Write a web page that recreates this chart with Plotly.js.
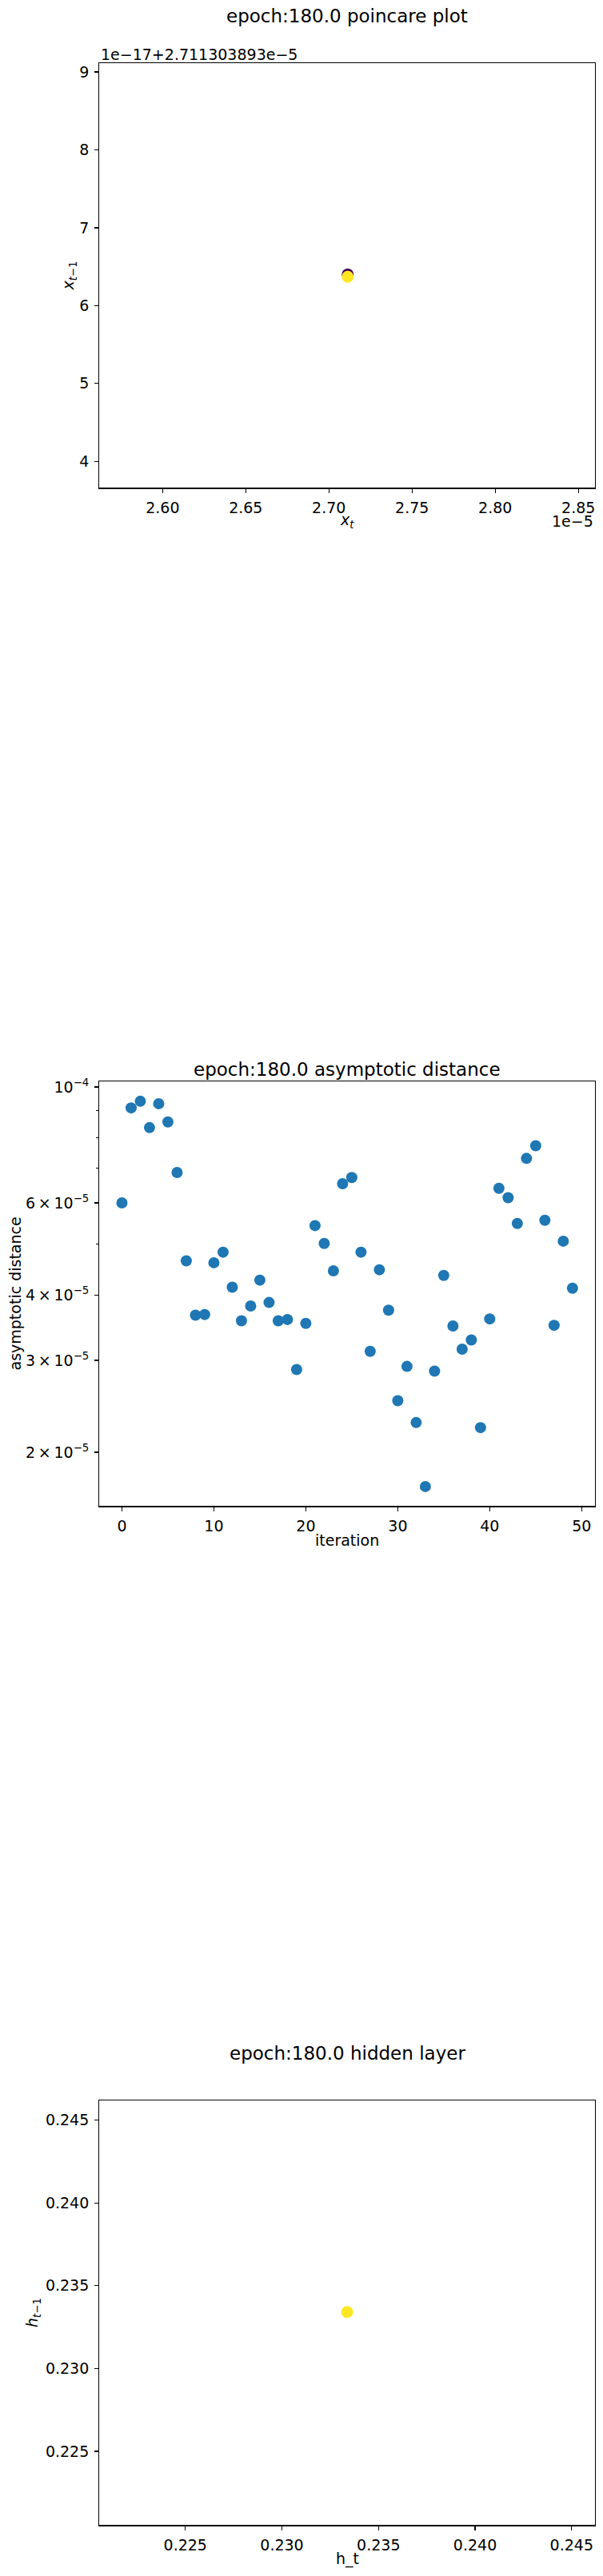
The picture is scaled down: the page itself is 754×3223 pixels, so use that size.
<!DOCTYPE html>
<html>
<head>
<meta charset="utf-8">
<script src="https://cdn.plot.ly/plotly-3.0.1.min.js"></script>
<style>
  body { margin: 0; background: #fff; }
  #chart { width: 754px; height: 3223px; }
</style>
</head>
<body>
<div id="chart"></div>
<script>
// poincare plot: x_t (raw) and x_{t-1} as offset from 2.711303893e-5, in units of 1e-17
const poincareX = [2.711303893e-5, 2.711303893e-5];
const poincareYOffset = [6.40, 6.37];
const poincareColors = ["#440154", "#fde725"];

// asymptotic distance per iteration
const iterations = [...Array(50).keys()];
const asymDist = [
    6.0e-5, 9.12e-5, 9.39e-5, 8.36e-5, 9.29e-5, 8.57e-5, 6.86e-5, 4.65e-5, 3.66e-5, 3.67e-5,
    4.61e-5, 4.83e-5, 4.14e-5, 3.57e-5, 3.81e-5, 4.27e-5, 3.87e-5, 3.57e-5, 3.59e-5, 2.88e-5,
    3.53e-5, 5.43e-5, 5.02e-5, 4.45e-5, 6.53e-5, 6.71e-5, 4.83e-5, 3.12e-5, 4.47e-5, 3.74e-5,
    2.51e-5, 2.92e-5, 2.28e-5, 1.72e-5, 2.86e-5, 4.36e-5, 3.49e-5, 3.15e-5, 3.28e-5, 2.23e-5,
    3.60e-5, 6.40e-5, 6.14e-5, 5.48e-5, 7.30e-5, 7.72e-5, 5.56e-5, 3.50e-5, 5.07e-5, 4.12e-5
];
const asymTickVals = [2e-5, 3e-5, 4e-5, 6e-5, 1e-4];
const asymTickText = ["2\u2009×\u200910<sup>−5</sup>", "3\u2009×\u200910<sup>−5</sup>",
                      "4\u2009×\u200910<sup>−5</sup>", "6\u2009×\u200910<sup>−5</sup>",
                      "10<sup>−4</sup>"];
const asymMinorVals = [5e-5, 7e-5, 8e-5, 9e-5];

// hidden layer
const hiddenT = [0.23338];
const hiddenTm1 = [0.23341];
const hiddenColors = ["#fde725"];

const font = { family: "DejaVu Sans", size: 19, color: "#000" };
const titleFont = { family: "DejaVu Sans", size: 23, color: "#000" };
const xDom = [0.16485, 0.98674];

function axisBase(extra) {
    return Object.assign({
        showline: true,
        mirror: true,
        linecolor: "#000",
        linewidth: 1.2,
        ticks: "outside",
        ticklen: 5,
        tickwidth: 1.2,
        tickcolor: "#000",
        showgrid: false,
        zeroline: false,
        ticklabelstandoff: 3,
        tickfont: font,
        fixedrange: true
    }, extra);
}

const tracePoincare = {
    x: poincareX.map(v => v / 1e-5),
    y: poincareYOffset,
    mode: "markers",
    type: "scatter",
    marker: { color: poincareColors, size: 15 },
    xaxis: "x",
    yaxis: "y",
    showlegend: false
};

const traceAsym = {
    x: iterations,
    y: asymDist,
    mode: "markers",
    type: "scatter",
    marker: { color: "#1f77b4", size: 14 },
    xaxis: "x2",
    yaxis: "y2",
    showlegend: false
};

const traceHidden = {
    x: hiddenT,
    y: hiddenTm1,
    mode: "markers",
    type: "scatter",
    marker: { color: hiddenColors, size: 15 },
    xaxis: "x3",
    yaxis: "y3",
    showlegend: false
};

function yp(px) { return 1 - px / 3223; }
const xMid = (xDom[0] + xDom[1]) / 2;

function note(text, x, y, opts) {
    return Object.assign({
        text: text, x: x, y: y, xref: "paper", yref: "paper",
        showarrow: false, xanchor: "center", yanchor: "middle", font: font
    }, opts || {});
}

const annotations = [
    note("epoch:180.0 poincare plot", xMid, yp(20), { font: titleFont }),
    note("1e−17+2.711303893e−5", xDom[0], yp(68), { xanchor: "left" }),
    note("<i>x</i><sub><i>t</i></sub>", xMid, yp(651)),
    note("1e−5", xDom[1], yp(652), { xanchor: "right" }),
    note("<i>x</i><sub><i>t</i>−1</sub>", 85.6 / 754, yp(345), { textangle: -90 }),

    note("epoch:180.0 asymptotic distance", xMid, yp(1338), { font: titleFont }),
    note("iteration", xMid, yp(1927)),
    note("asymptotic distance", 18.5 / 754, yp(1619), { textangle: -90 }),

    note("epoch:180.0 hidden layer", xMid, yp(2569), { font: titleFont }),
    note("h_t", xMid, yp(3201)),
    note("<i>h</i><sub><i>t</i>−1</sub>", 41 / 754, yp(2894), { textangle: -90 })
];

const layout = {
    width: 754,
    height: 3223,
    margin: { l: 0, r: 0, t: 0, b: 0 },
    paper_bgcolor: "#fff",
    plot_bgcolor: "#fff",
    font: font,
    showlegend: false,
    xaxis: axisBase({
        domain: xDom, anchor: "y", range: [2.562, 2.860],
        tickvals: [2.60, 2.65, 2.70, 2.75, 2.80, 2.85], tickformat: ".2f"
    }),
    yaxis: axisBase({
        domain: [yp(610.3), yp(79)], anchor: "x", range: [3.661, 9.113],
        tickvals: [4, 5, 6, 7, 8, 9]
    }),
    xaxis2: axisBase({
        domain: xDom, anchor: "y2", range: [-2.45, 51.45],
        tickvals: [0, 10, 20, 30, 40, 50]
    }),
    yaxis2: axisBase({
        domain: [yp(1884.3), yp(1353.3)], anchor: "x2", type: "log",
        range: [-4.8018, -3.98976],
        tickmode: "array", tickvals: asymTickVals, ticktext: asymTickText,
        minor: { tickmode: "array", tickvals: asymMinorVals, ticks: "outside",
                 ticklen: 3, tickwidth: 1, tickcolor: "#000", showgrid: false }
    }),
    xaxis3: axisBase({
        domain: xDom, anchor: "y3", range: [0.22055, 0.24621],
        tickvals: [0.225, 0.230, 0.235, 0.240, 0.245], tickformat: ".3f"
    }),
    yaxis3: axisBase({
        domain: [yp(3159.3), yp(2628.3)], anchor: "x3", range: [0.22054, 0.24618],
        tickvals: [0.225, 0.230, 0.235, 0.240, 0.245], tickformat: ".3f"
    }),
    annotations: annotations
};

Plotly.newPlot("chart", [tracePoincare, traceAsym, traceHidden], layout,
               { displayModeBar: false, staticPlot: true });
</script>
</body>
</html>
